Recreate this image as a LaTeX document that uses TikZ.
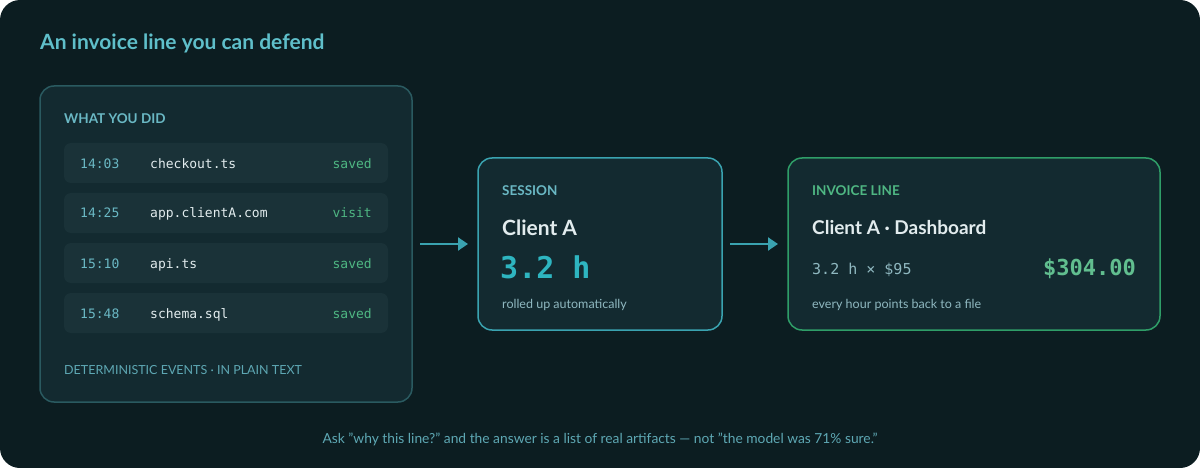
\documentclass[tikz,border=0pt]{standalone}
\usepackage{fontspec}
\setmainfont{Lato}
\setmonofont{DejaVu Sans Mono}
\usetikzlibrary{arrows.meta}
\definecolor{bg}{HTML}{0C1D21}
\definecolor{card}{HTML}{132A30}
\definecolor{row}{HTML}{1A3238}
\definecolor{cardb}{HTML}{2A5A60}
\definecolor{teal}{HTML}{3AA3B0}
\definecolor{tealtxt}{HTML}{6AB8C4}
\definecolor{grn}{HTML}{4FB783}
\definecolor{grnb}{HTML}{2F9E68}
\definecolor{wht}{HTML}{E2ECEE}
\definecolor{muted}{HTML}{5EA8B4}
\definecolor{soft}{HTML}{8FB8C0}
\newcommand{\qq}{{\char"22}}
\begin{document}
\begin{tikzpicture}[x=1pt,y=-1pt,
  lbl/.style={anchor=base west,inner sep=0,font=\fontsize{13.5}{13}\selectfont\bfseries},
  rowbox/.style={fill=row,rounded corners=7pt,draw=none},
  tm/.style={anchor=base west,inner sep=0,font=\fontsize{13}{13}\ttfamily,text=tealtxt},
  fn/.style={anchor=base west,inner sep=0,font=\fontsize{13}{13}\ttfamily,text=wht},
  st/.style={anchor=base east,inner sep=0,font=\fontsize{13}{13}\ttfamily,text=grn},
  small/.style={anchor=base west,inner sep=0,font=\fontsize{12.5}{12}\selectfont},
  arr/.style={draw=teal,line width=2pt,-{Triangle[length=10pt,width=13pt]}}]
\fill[white] (0,0) rectangle (1200,468);
\useasboundingbox (0,0) rectangle (1200,468);
\fill[bg,rounded corners=20pt] (0,0) rectangle (1200,468);
\node[anchor=base west,inner sep=0,text=tealtxt!90!cyan,font=\fontsize{21}{21}\selectfont\bfseries] (title) at (40,50) {An invoice line you can defend};
% left card
\draw[fill=card,draw=cardb,line width=1.5pt,rounded corners=14pt] (40,86) rectangle (412,402);
\node[lbl,text=tealtxt] (wyd) at (64,124) {WHAT YOU DID};
\foreach \y/\t/\f/\s in {143/14:03/checkout.ts/saved,193/14:25/app.clientA.com/visit,243/15:10/api.ts/saved,293/15:48/schema.sql/saved}{
  \fill[rowbox] (64,\y) rectangle (388,\y+40);
  \node[tm] at (80,\y+25) {\t};
  \node[fn] at (150,\y+25) {\f};
  \node[st] at (372,\y+25) {\s};
}
\node[small,text=muted] (foot) at (64,374) {DETERMINISTIC EVENTS · IN PLAIN TEXT};
% session
\draw[fill=card,draw=teal,line width=1.5pt,rounded corners=14pt] (478,158) rectangle (722,330);
\node[lbl,text=tealtxt] at (502,196) {SESSION};
\node[anchor=base west,inner sep=0,text=wht,font=\fontsize{21}{21}\selectfont\bfseries] at (502,235) {Client A};
\node[anchor=base west,inner sep=0,text=teal!80!cyan,font=\fontsize{30}{30}\ttfamily\bfseries] at (500,278) {3.2 h};
\node[small,text=soft] at (502,308) {rolled up automatically};
% invoice
\draw[fill=card,draw=grnb,line width=1.5pt,rounded corners=14pt] (788,158) rectangle (1160,330);
\node[lbl,text=grn] at (812,196) {INVOICE LINE};
\node[anchor=base west,inner sep=0,text=wht,font=\fontsize{19}{19}\selectfont\bfseries] at (812,234) {Client A · Dashboard};
\node[anchor=base west,inner sep=0,text=soft,font=\fontsize{15}{15}\ttfamily] at (812,274) {3.2 h × \$95};
\node[anchor=base east,inner sep=0,text=grn!90!white,font=\fontsize{22}{22}\ttfamily\bfseries] at (1136,275) {\$304.00};
\node[small,text=soft] at (812,308) {every hour points back to a file};
% arrows
\coordinate (a1) at (420,244); \coordinate (a2) at (468,244);
\coordinate (b1) at (730,244); \coordinate (b2) at (778,244);
\draw[arr] (a1) -- (a2);
\draw[arr] (b1) -- (b2);
\node[anchor=base,inner sep=0,text=muted,font=\fontsize{13.8}{13}\selectfont] (cap) at (600,443) {Ask \qq why this line?\qq{} and the answer is a list of real artifacts — not \qq the model was 71\% sure.\qq};
\end{tikzpicture}
\end{document}
